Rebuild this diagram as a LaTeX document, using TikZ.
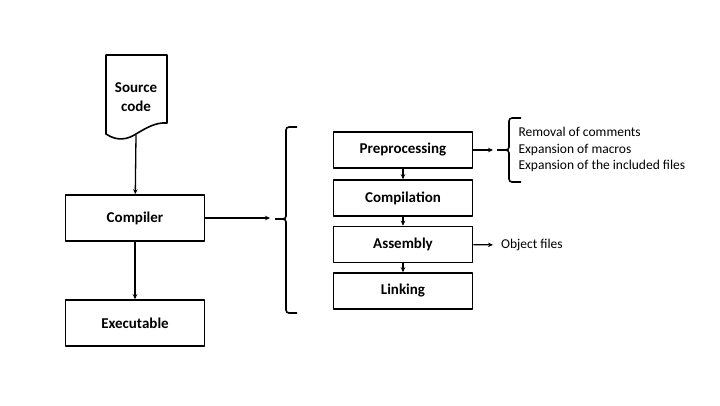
\documentclass[tikz,border=0pt]{standalone}
\usepackage{fontspec}
\setmainfont{Carlito}
\usetikzlibrary{arrows.meta}
\tikzset{
  mainbox/.style={draw,line width=1.6pt,minimum width=139pt,minimum height=46pt,font=\fontsize{15}{18}\selectfont\bfseries},
  stepbox/.style={draw,line width=1.6pt,minimum width=139pt,minimum height=36pt,font=\fontsize{15}{18}\selectfont\bfseries},
  link/.style={->,line width=1.3pt},
  brace/.style={line width=1.6pt,rounded corners=3pt},
  note/.style={anchor=west,align=left,font=\fontsize{13.5}{16.5}\selectfont},
}
\begin{document}
\begin{tikzpicture}[x=1pt,y=-1pt,>={Stealth[length=5pt,width=4.5pt]},line join=round]
	\useasboundingbox (0,0) rectangle (720,405);
	\draw[line width=1.6pt] (106,55) -- (167,55) -- (167,123) .. controls (156,122) and (146,128) .. (136,134) .. controls (128,139) and (118,142) .. (106,134) -- cycle;
	\node[align=center,font=\fontsize{15}{19}\selectfont\bfseries] (src) at (136,97.5) {Source\\code};
	\coordinate (srcb) at (136,135);
	\node[mainbox] (comp) at (135,218) {Compiler};
	\node[mainbox] (exe) at (135,323) {Executable};
	\draw[link] (srcb) -- (comp);
	\draw[link] (comp) -- (exe);
	\coordinate (ltip) at (270,218);
	\draw[link] (comp) -- (ltip);
	\draw[brace] (275,219) -| (286,127) -- (297,127);
	\draw[brace] (275,219) -| (286,313) -- (297,313);
	\node[stepbox] (pre) at (403,150) {Preprocessing};
	\node[stepbox] (cpl) at (403,198) {Compilation};
	\node[stepbox] (asm) at (403,244.5) {Assembly};
	\node[stepbox] (lnk) at (403,291) {Linking};
	\draw[link] (pre) -- (cpl);
	\draw[link] (cpl) -- (asm);
	\draw[link] (asm) -- (lnk);
	\coordinate (rtip) at (493,150);
	\draw[link] (pre) -- (rtip);
	\draw[brace] (497,150) -| (509,118) -- (521,118);
	\draw[brace] (497,150) -| (509,182) -- (521,182);
	\node[note] (pp) at (515,149.5) {Removal of comments\\Expansion of macros\\Expansion of the included files};
	\node[note,inner xsep=8pt] (obj) at (493,245) {Object files};
	\draw[link] (asm) -- (obj);
\end{tikzpicture}
\end{document}
